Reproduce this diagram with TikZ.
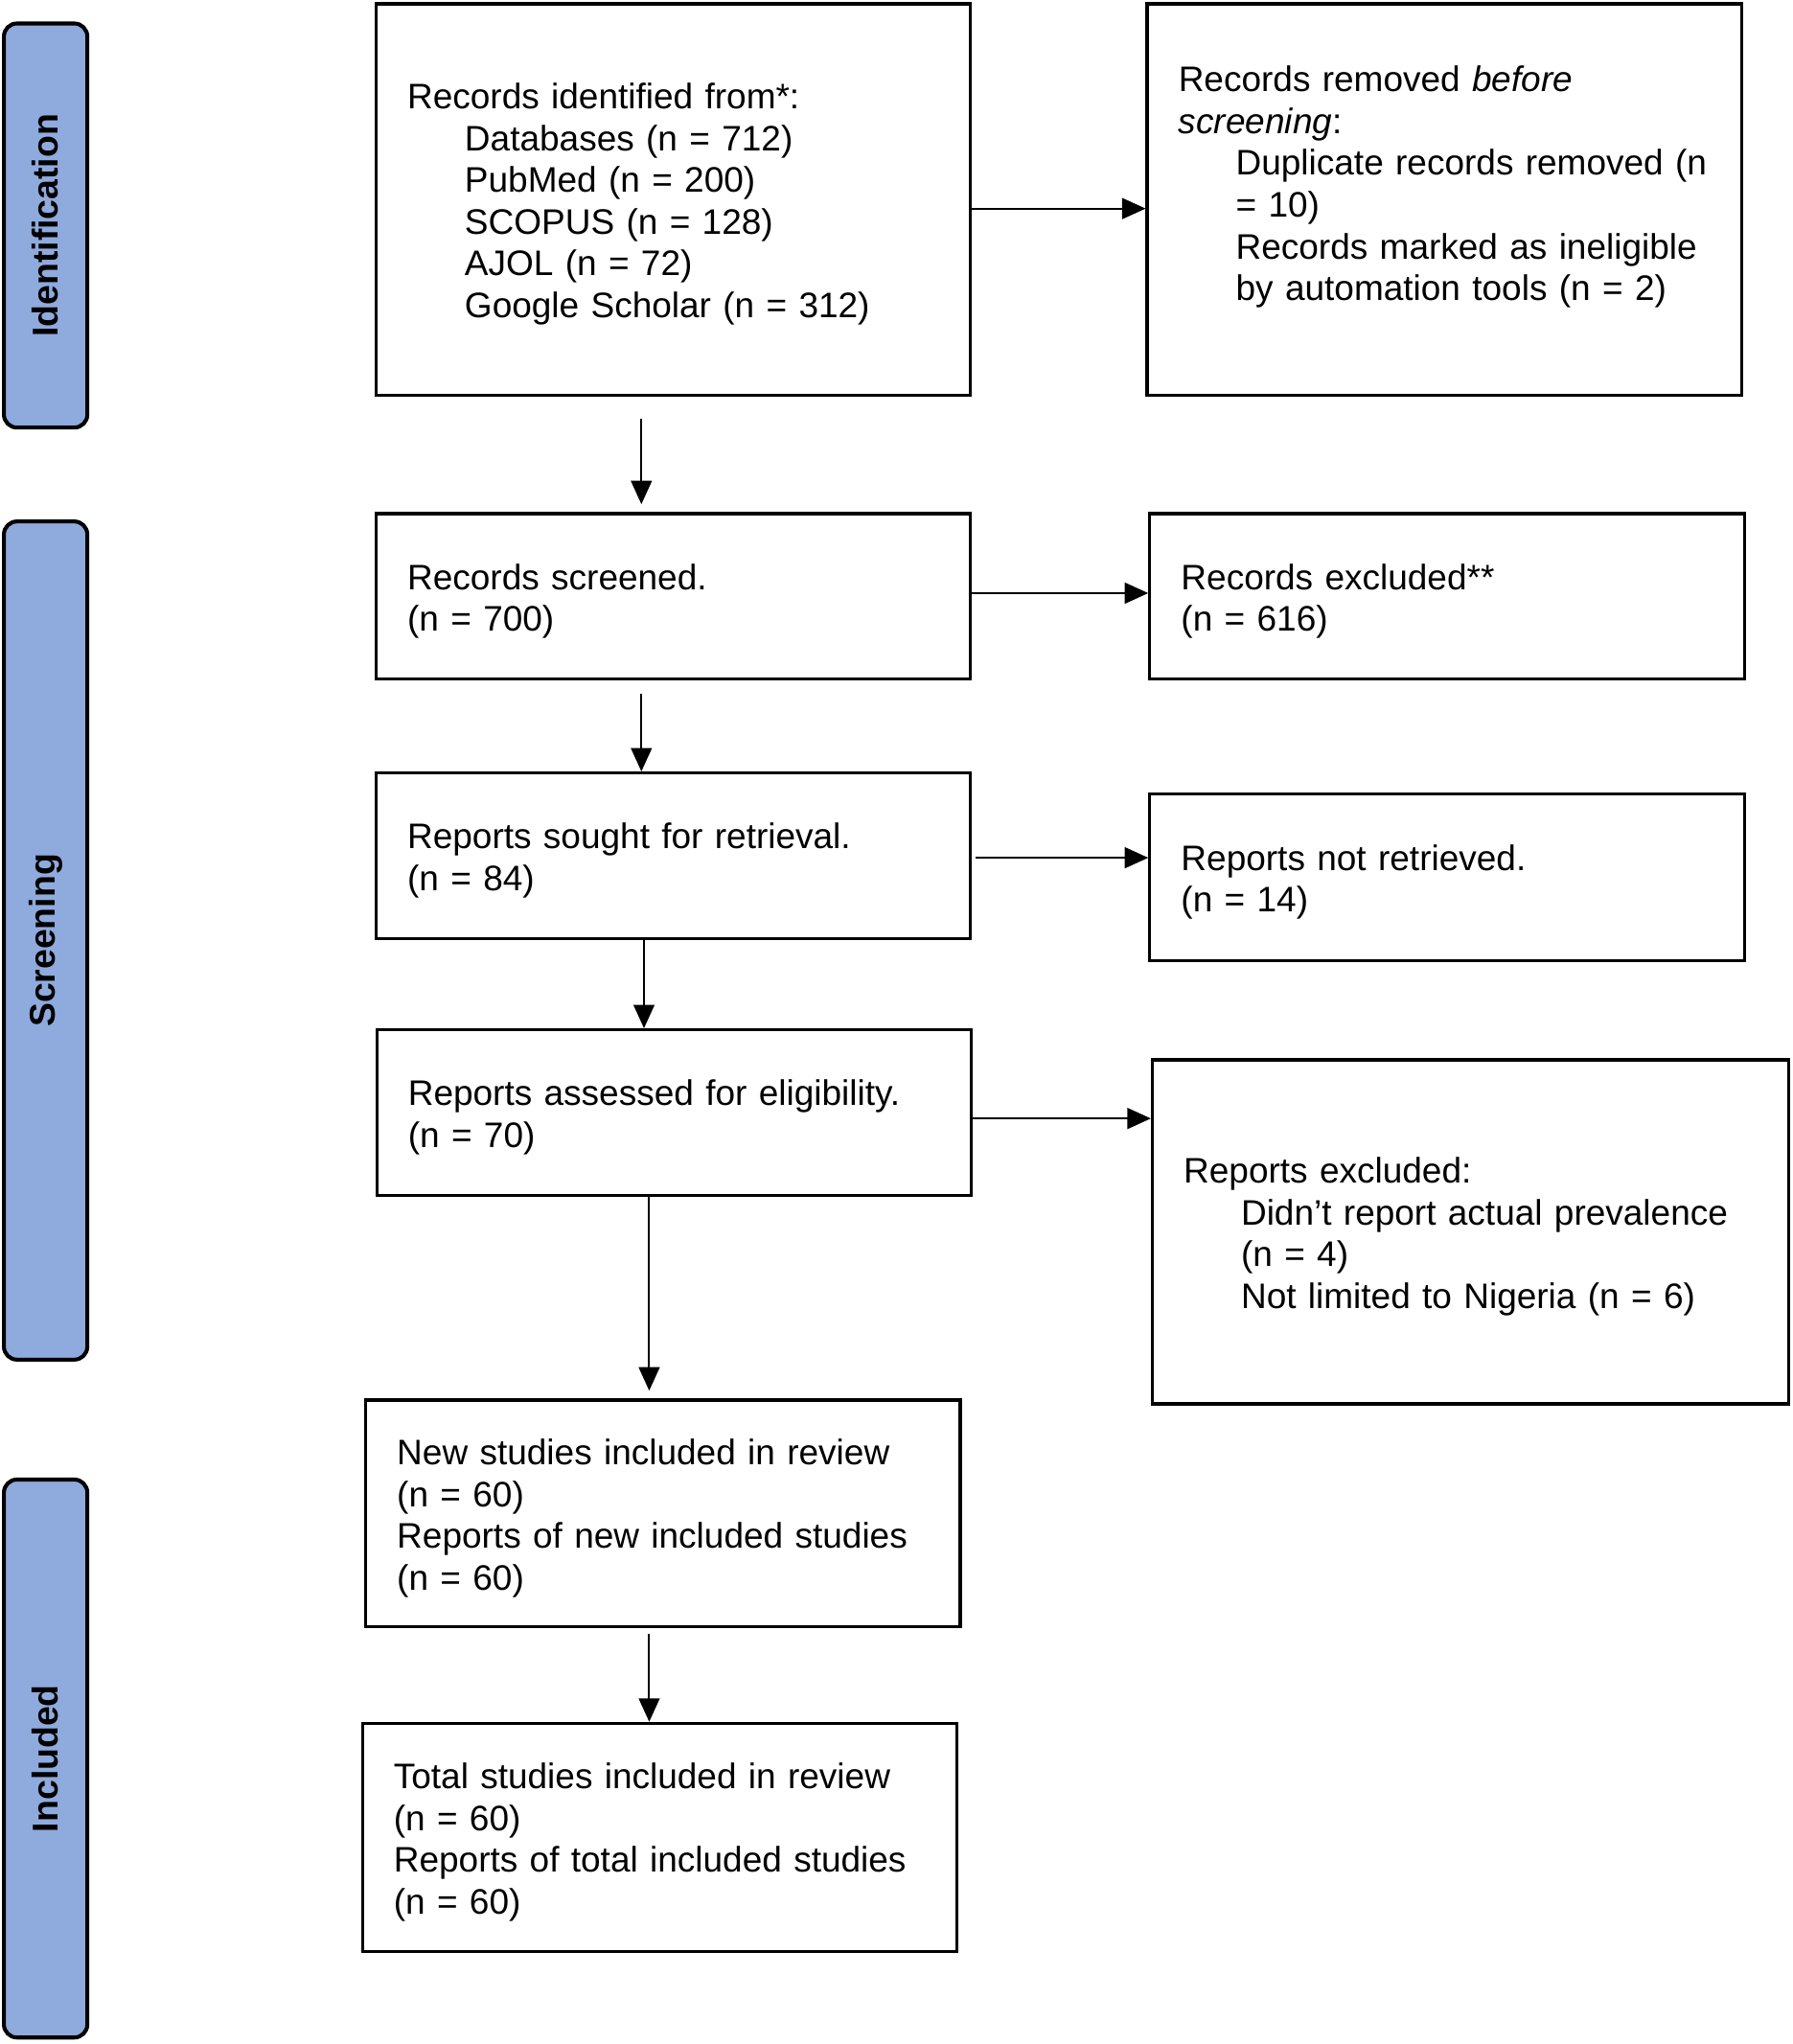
\documentclass[tikz,border=0pt]{standalone}
\usepackage{fontspec}
\setmainfont{Liberation Sans}
\usetikzlibrary{arrows.meta,positioning}
\definecolor{phaseblue}{HTML}{8FAADC}
\newcommand{\indt}{\hspace*{22pt}}

\begin{document}
\begin{tikzpicture}[
        x=0.5pt, y=-0.5pt,
        font=\fontsize{13.6}{16}\selectfont,
        basic/.style = {draw, line width=1.2pt, rectangle, inner xsep=12pt, inner ysep=0pt, align=left,
                        execute at begin node={\rule{0pt}{13.5pt}}},
        box/.style = {basic, text width=204pt},
        wide/.style = {basic, text width=220pt},
        phase/.style = {draw, line width=1.5pt, fill=phaseblue, rounded corners=5pt, rotate=90,
                        minimum height=32pt, inner sep=0pt, font=\fontsize{13.75}{16}\selectfont\bfseries},
        arr/.style = {->, line width=0.75pt},
        >={Triangle[length=9pt,width=8pt]}]
    \useasboundingbox (0,0) rectangle (1375,1568);

    % phases
    \node[phase, minimum width=155pt]   (ident)  at (35,173)    {Identification};
    \node[phase, minimum width=321.5pt] (screen) at (35,721.5)  {Screening};
    \node[phase, minimum width=214pt]   (incl)   at (35,1349)   {Included};

    % boxes
    \node[box, minimum height=150pt] (found) at (516.5,153) {
        Records identified from*:\\
        \indt Databases (n = 712)\\
        \indt PubMed (n = 200)\\
        \indt SCOPUS (n = 128)\\
        \indt AJOL (n = 72)\\
        \indt Google Scholar (n = 312)};
    \node[box, minimum height=150pt] (removed) at (1108,153) {
        Records removed \textit{before}\\
        \textit{screening}:\\
        \indt \mbox{Duplicate records removed (n}\\
        \indt = 10)\\
        \indt Records marked as ineligible\\
        \indt by automation tools (n = 2)\\
        \mbox{}};
    \node[box, minimum height=63.5pt] (screened) at (516.5,457.5) {Records screened.\\(n = 700)};
    \node[box, minimum height=63.5pt] (excluded) at (1110,457.5) {Records excluded**\\(n = 616)};
    \node[box, minimum height=63.5pt] (sought) at (516.5,656.5) {Reports sought for retrieval.\\(n = 84)};
    \node[box, minimum height=64pt] (notret) at (1110,673) {Reports not retrieved.\\(n = 14)};
    \node[box, minimum height=63.5pt] (assessed) at (517,853.5) {Reports assessed for eligibility.\\(n = 70)};
    \node[wide, minimum height=132pt] (repexcl) at (1128,945) {
        Reports excluded:\\
        \indt Didn’t report actual prevalence\\
        \indt (n = 4)\\
        \indt Not limited to Nigeria (n = 6)};
    \node[box, minimum height=87pt] (newstud) at (508.5,1161) {
        New studies included in review\\
        (n = 60)\\
        Reports of new included studies\\
        (n = 60)};
    \node[box, minimum height=87.5pt] (total) at (506,1409.5) {
        Total studies included in review\\
        (n = 60)\\
        Reports of total included studies\\
        (n = 60)};

    % arrows
    \draw[arr] (found.east |- 0,160) -- (removed.west |- 0,160);
    \draw[arr, shorten <=8.5pt, shorten >=3pt] (found.south -| 492,0) -- (screened.north -| 492,0);
    \draw[arr] (screened.east |- 0,455) -- (excluded.west |- 0,455);
    \draw[arr, shorten <=5pt] (screened.south -| 492,0) -- (sought.north -| 492,0);
    \draw[arr, shorten <=1.5pt] (sought.east |- 0,658) -- (notret.west |- 0,658);
    \draw[arr] (sought.south -| 494,0) -- (assessed.north -| 494,0);
    \draw[arr] (assessed.east |- 0,858) -- (repexcl.west |- 0,858);
    \draw[arr, shorten >=3pt] (assessed.south -| 498,0) -- (newstud.north -| 498,0);
    \draw[arr, shorten <=2pt] (newstud.south -| 498,0) -- (total.north -| 498,0);
\end{tikzpicture}
\end{document}
